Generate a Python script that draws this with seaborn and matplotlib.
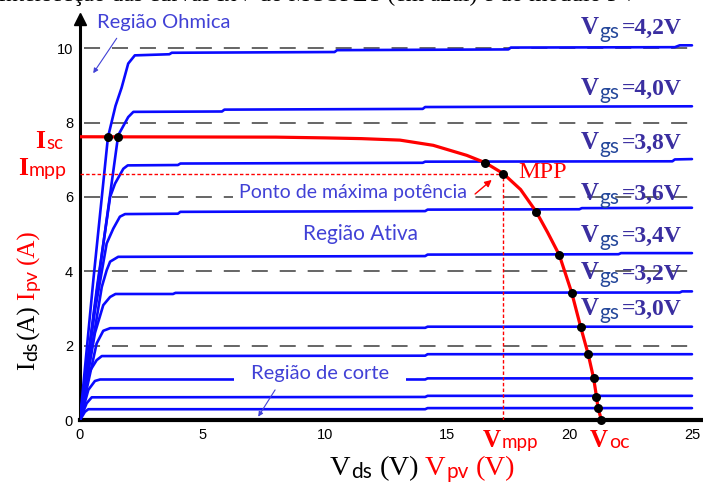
import numpy as np
import pandas as pd
import matplotlib
matplotlib.use("Agg")
import matplotlib.pyplot as plt
import matplotlib.transforms as mtransforms
import seaborn as sns

# ---- MOSFET output curves Ids x Vds (one curve per gate voltage, top to bottom) ----
vgs_labels = ["4,2V", "4,0V", "3,8V", "3,6V", "3,4V", "3,2V", "3,0V"]

vds_1 = [0, 0.55, 1.14, 1.45, 1.7, 1.97, 2.24, 3.65, 3.75, 10.4, 10.5, 17.5, 17.6, 24.3, 24.5, 25]
ids_1 = [0, 3.8, 7.6, 8.45, 8.94, 9.59, 9.81, 9.84, 9.88, 9.9, 9.95, 9.97, 10.02, 10.03, 10.08, 10.08]

vds_2 = [0, 0.75, 1.56, 1.97, 2.18, 5.8, 5.9, 14.0, 14.1, 25]
ids_2 = [0, 3.75, 7.66, 8.15, 8.29, 8.3, 8.35, 8.37, 8.42, 8.44]

vds_3 = [0, 0.7, 1.23, 1.43, 1.77, 1.95, 4.0, 4.1, 14.0, 14.1, 24.2, 24.3, 25]
ids_3 = [0, 3.6, 6.0, 6.36, 6.76, 6.85, 6.86, 6.9, 6.92, 6.95, 6.96, 7.01, 7.02]

vds_4 = [0, 0.6, 1.09, 1.36, 1.63, 1.84, 4.0, 4.1, 14.1, 14.2, 20.4, 20.5, 25]
ids_4 = [0, 2.9, 4.75, 5.15, 5.47, 5.54, 5.55, 5.6, 5.62, 5.66, 5.67, 5.7, 5.71]

vds_5 = [0, 0.89, 1.09, 1.23, 1.56, 14.1, 14.2, 22.0, 22.1, 25]
ids_5 = [0, 3.58, 4.03, 4.26, 4.39, 4.41, 4.45, 4.46, 4.49, 4.49]

vds_6 = [0, 0.61, 0.95, 1.23, 1.45, 3.8, 3.9, 24.5, 24.6, 25]
ids_6 = [0, 2.34, 3.09, 3.31, 3.39, 3.39, 3.42, 3.43, 3.46, 3.46]

vds_7 = [0, 0.68, 0.95, 1.23, 14.1, 14.2, 25]
ids_7 = [0, 2.06, 2.4, 2.47, 2.48, 2.51, 2.51]

vds_8 = [0, 0.34, 0.68, 0.89, 14.1, 14.2, 25]
ids_8 = [0, 1.25, 1.61, 1.72, 1.73, 1.77, 1.77]

vds_9 = [0, 0.34, 0.61, 0.82, 14.1, 14.2, 25]
ids_9 = [0, 0.81, 1.05, 1.09, 1.09, 1.12, 1.12]

vds_10 = [0, 0.27, 0.48, 14.1, 14.2, 25]
ids_10 = [0, 0.45, 0.61, 0.62, 0.65, 0.65]

vds_11 = [0, 0.2, 0.34, 14.1, 14.2, 25]
ids_11 = [0, 0.22, 0.29, 0.29, 0.32, 0.32]

# ---- PV module curve Ipv x Vpv ----
vpv = [0, 8, 10, 11.5, 13.07, 14.43, 15.8, 16.56, 17.29, 18.0, 18.64, 19.1, 19.58,
       20.09, 20.45, 20.76, 20.98, 21.1, 21.16, 21.3]
ipv = [7.62, 7.61, 7.59, 7.57, 7.53, 7.39, 7.12, 6.92, 6.63, 6.2, 5.6, 5.05, 4.44,
       3.42, 2.51, 1.77, 1.13, 0.63, 0.33, 0.0]

# operating points (intersections of both families of curves)
v_cross = [1.14, 1.55, 16.56, 17.29, 18.64, 19.58, 20.09, 20.45, 20.76, 20.98, 21.1, 21.16, 21.3]
i_cross = [7.62, 7.62, 6.92, 6.63, 5.6, 4.44, 3.42, 2.51, 1.77, 1.13, 0.63, 0.33, 0.0]

v_mpp, i_mpp = 17.29, 6.63

x_ticks = [0, 5, 10, 15, 20, 25]
y_ticks = [0, 2, 4, 6, 8, 10]

# ---- style ----
BLUE = "#0a0aff"
RED = "#ff0000"
NAVY = "#3a2ea0"
NAVY2 = "#24479a"
TXTBLUE = "#4141d6"
SERIF = ["Liberation Serif", "DejaVu Serif"]
SANS = ["Liberation Sans", "DejaVu Sans"]
CAL = ["Lato", "DejaVu Sans"]

sns.set_theme(style="white")
plt.rcParams["font.family"] = SANS

W, H = 703, 484
fig = plt.figure(figsize=(W / 100, H / 100), dpi=100)
fig.patch.set_facecolor("white")
ax = fig.add_axes([80 / W, 64 / H, 622 / W, 394 / H])
ax.set_xlim(0, 25.41)
ax.set_ylim(0, 10.6)

# dashed horizontal guides ending at Vds = 25
for yv in y_ticks[1:]:
    ax.axhline(yv, xmin=0.006, xmax=25 / 25.41, color="#3c3c3c", lw=1.1,
               linestyle=(0, (10.5, 7.8)), zorder=1)

curves = [(vds_1, ids_1), (vds_2, ids_2), (vds_3, ids_3), (vds_4, ids_4),
          (vds_5, ids_5), (vds_6, ids_6), (vds_7, ids_7), (vds_8, ids_8),
          (vds_9, ids_9), (vds_10, ids_10), (vds_11, ids_11)]
df = pd.concat([pd.DataFrame({"Vds": v, "Ids": i, "curva": k})
                for k, (v, i) in enumerate(curves)], ignore_index=True)
sns.lineplot(data=df, x="Vds", y="Ids", units="curva", estimator=None, sort=False,
             color=BLUE, lw=1.9, ax=ax, legend=False, zorder=3)

sns.lineplot(x=vpv, y=ipv, sort=False, estimator=None, color=RED, lw=2.3, ax=ax, zorder=4)

# maximum power point guides
ax.plot([0, v_mpp], [i_mpp, i_mpp], color=RED, lw=1.0, linestyle=(0, (2.5, 1.6)), zorder=4)
ax.plot([v_mpp, v_mpp], [0, i_mpp], color=RED, lw=1.0, linestyle=(0, (2.5, 1.6)), zorder=4)

sns.scatterplot(x=v_cross, y=i_cross, color="black", s=42, linewidth=0, ax=ax,
                zorder=6, clip_on=False)

# axes styling
for s in ["top", "right"]:
    ax.spines[s].set_visible(False)
ax.spines["left"].set_linewidth(2.2)
ax.spines["bottom"].set_linewidth(3.0)
ax.spines["left"].set_color("black")
ax.spines["bottom"].set_color("black")
ax.set_xticks(x_ticks)
ax.set_yticks(y_ticks)
ax.set_xticklabels([str(t) for t in x_ticks])
ax.set_yticklabels([str(t) for t in y_ticks])
ax.tick_params(axis="x", direction="in", length=5, width=1, color="#666666",
               labelsize=10.5, pad=6, labelcolor="black")
ax.tick_params(axis="y", direction="in", length=5, width=1, color="#666666",
               labelsize=10.5, pad=5, labelcolor="black")
ax.set_xlabel("")
ax.set_ylabel("")
ax.plot([0], [1.018], marker="^", color="black", markersize=8,
        transform=ax.get_xaxis_transform(), clip_on=False, zorder=7)

renderer = fig.canvas.get_renderer()


def chain(x, y, parts, transform, rotation=0):
    """Write consecutive text pieces (with subscript drops) along one baseline."""
    th = np.deg2rad(rotation)
    ux, uy = np.cos(th), np.sin(th)
    nx, ny = np.sin(th), -np.cos(th)
    adv = 0.0
    for s, kw, drop, gap in parts:
        adv += gap
        off = mtransforms.offset_copy(transform, fig=fig, x=adv * ux + drop * nx,
                                      y=adv * uy + drop * ny, units="dots")
        t = fig.text(x, y, s, transform=off, rotation=rotation, rotation_mode="anchor",
                     ha="left", va="baseline", zorder=8, **kw)
        bb = t.get_window_extent(renderer)
        adv += bb.width if rotation == 0 else bb.height


def serif(size, color, bold=False):
    return dict(family=SERIF, size=size, color=color, weight="bold" if bold else "normal")


def cal(size, color):
    return dict(family=CAL, size=size, color=color)


# gate voltage labels
vgs_baselines = [10.395, 8.74, 7.28, 5.91, 4.79, 3.78, 2.82]
for lab, yb in zip(vgs_labels, vgs_baselines):
    chain(20.45, yb, [("V", serif(18, NAVY, True), 0, 0),
                      ("gs", cal(15, NAVY2), 4, 1),
                      ("=" + lab, serif(17, NAVY, True), 0, 2)], ax.transData)

# PV markers on the axes
chain(-1.84, 7.31, [("I", serif(18.5, RED, True), 0, 0), ("sc", cal(13.5, RED), 1, 1)], ax.transData)
chain(-2.53, 6.59, [("I", serif(18.5, RED, True), 0, 0), ("mpp", cal(14, RED), 1, 1)], ax.transData)
chain(16.45, -0.72, [("V", serif(18, RED, True), 0, 0), ("mpp", cal(13.5, RED), 1, 1)], ax.transData)
chain(20.83, -0.72, [("V", serif(18, RED, True), 0, 0), ("oc", cal(14, RED), 1, 1)], ax.transData)

# axis titles
chain(330, H - 475, [("V", serif(20.5, "black"), 0, 0),
                     ("ds", cal(15, "black"), 3, 1),
                     ("(V)", serif(20.5, "black"), 0, 7),
                     ("V", serif(20.5, RED), 0, 6),
                     ("pv", cal(15, RED), 3, 1),
                     ("(V)", serif(20.5, RED), 0, 7)],
      mtransforms.IdentityTransform())
chain(34, H - 370, [("I", serif(18, "black"), 0, 0),
                    ("ds", cal(14, "black"), 3, 1),
                    ("(A)", serif(18, "black"), 0, 2),
                    ("I", serif(18, RED), 0, 5),
                    ("pv", cal(14, RED), 3, 1),
                    ("(A)", serif(18, RED), 0, 5)],
      mtransforms.IdentityTransform(), rotation=90)

# region annotations
ax.text(0.69, 10.55, "Região Ohmica", family=CAL, size=14.5, color=TXTBLUE,
        ha="left", va="baseline", zorder=8)
ax.annotate("", xy=(0.54, 9.33), xytext=(1.5, 10.27),
            arrowprops=dict(arrowstyle="-|>", color=TXTBLUE, lw=0.8,
                            mutation_scale=7, shrinkA=0, shrinkB=0), zorder=8)
ax.text(11.15, 6.13, "Ponto de máxima potência", family=CAL, size=14, color=TXTBLUE,
        ha="center", va="center", zorder=8,
        bbox=dict(boxstyle="square,pad=0.3", fc="white", ec="none"))
ax.text(11.44, 5.0, "Região Ativa", family=CAL, size=15, color=TXTBLUE,
        ha="center", va="center", zorder=8)
ax.text(9.8, 1.24, "Região de corte", family=CAL, size=14.5, color=TXTBLUE,
        ha="center", va="center", zorder=8,
        bbox=dict(boxstyle="square,pad=0.85", fc="white", ec="none", mutation_aspect=0.3))
ax.annotate("", xy=(7.28, 0.09), xytext=(7.97, 0.81),
            arrowprops=dict(arrowstyle="-|>", color=TXTBLUE, lw=0.8,
                            mutation_scale=7, shrinkA=0, shrinkB=0), zorder=8)
ax.text(17.89, 6.67, "MPP", family=SERIF, size=17.5, color=RED,
        ha="left", va="center", zorder=8)
ax.annotate("", xy=(16.82, 6.46), xytext=(16.14, 6.08),
            arrowprops=dict(arrowstyle="-|>", color=RED, lw=1.0,
                            mutation_scale=10, shrinkA=0, shrinkB=0), zorder=8)

# caption line running above the chart
fig.text(-2 / W, 1 - 1.5 / H,
         "Intersecção das curvas IxV do MOSFET (em azul) e do módulo PV",
         family=SERIF, size=17, color="black", ha="left", va="baseline")

fig.savefig("out.png", dpi=100, facecolor="white")
